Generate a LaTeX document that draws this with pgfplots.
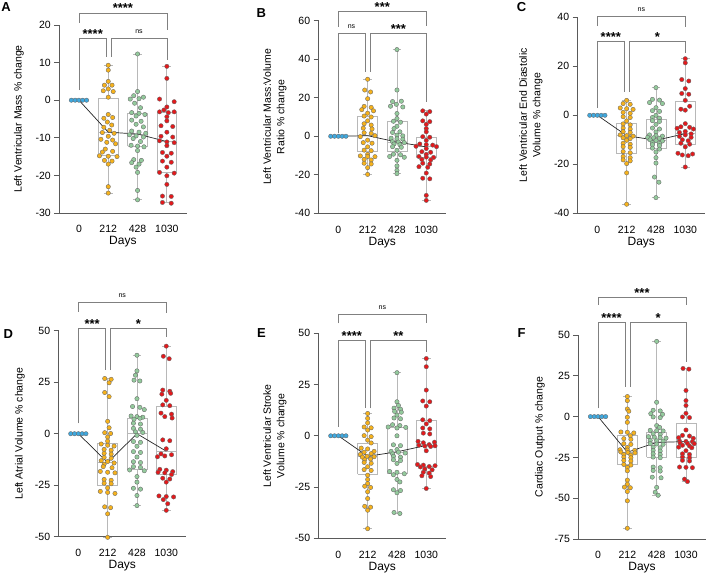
\documentclass[border=0pt]{standalone}
\usepackage{pgfplots}
\pgfplotsset{compat=1.18}
\usepackage{fontspec}
\setmainfont{Liberation Sans}
\definecolor{cyel}{HTML}{F6B21C}
\definecolor{cgrn}{HTML}{93CA9C}
\definecolor{cred}{HTML}{E3191C}
\definecolor{cblu}{HTML}{3FA8DE}
\definecolor{cbox}{HTML}{B8B8B8}
\definecolor{caxis}{HTML}{5A5A5A}
\definecolor{cbrk}{HTML}{808080}
\tikzset{
 stars/.style={anchor=base, inner sep=0pt, font=\bfseries\fontsize{13}{13}\selectfont},
 nsl/.style={anchor=base, inner sep=0pt, font=\fontsize{7}{8}\selectfont},
 brk/.style={draw=cbrk, line width=0.7pt},
 plet/.style={anchor=center, inner sep=0pt, font=\bfseries\fontsize{13}{13}\selectfont},
}
\pgfplotsset{
 pts/.style={only marks, mark=*, mark size=2.2pt, mark options={fill=#1, draw=black!60, line width=0.35pt}},
 medl/.style={mark=none, draw=black!85, line width=0.7pt},
 boxl/.style={draw=cbox, line width=0.8pt, mark=none, unbounded coords=jump},
 panel/.style={
  scale only axis, width=127.2pt, anchor=south west,
  xmin=-0.67, xmax=3.67,
  axis x line*=bottom, axis y line*=left,
  axis line style={draw=caxis, line width=0.8pt},
  xtick={0,1,2,3}, xticklabels={0,212,428,1030},
  xtick style={draw=none},
  ytick style={draw=caxis, line width=0.8pt},
  tick align=outside, major tick length=5pt,
  tick label style={font=\fontsize{10.5}{12}\selectfont, text=black},
  /pgf/number format/assume math mode=true,
  xticklabel style={yshift=-4pt},
  xlabel={Days},
  xlabel style={font=\fontsize{12}{14}\selectfont, at={([yshift=-29pt]axis description cs:0.5,0)}, anchor=center},
  ylabel style={font=\fontsize{10.5}{13.5}\selectfont, anchor=center, align=center},
  clip=false,
 },
}
% box macros: #1 lower whisker, #2 lower quartile, #3 median, #4 upper quartile, #5 upper whisker
\newcommand\bxa[5]{\addplot[boxl] coordinates {(0.66,#2)(1.34,#2)(1.34,#4)(0.66,#4)(0.66,#2)(nan,nan)(0.66,#3)(1.34,#3)(nan,nan)(1,#4)(1,#5)(nan,nan)(0.85,#5)(1.15,#5)(nan,nan)(1,#2)(1,#1)(nan,nan)(0.85,#1)(1.15,#1)};}
\newcommand\bxb[5]{\addplot[boxl] coordinates {(1.66,#2)(2.34,#2)(2.34,#4)(1.66,#4)(1.66,#2)(nan,nan)(1.66,#3)(2.34,#3)(nan,nan)(2,#4)(2,#5)(nan,nan)(1.85,#5)(2.15,#5)(nan,nan)(2,#2)(2,#1)(nan,nan)(1.85,#1)(2.15,#1)};}
\newcommand\bxc[5]{\addplot[boxl] coordinates {(2.66,#2)(3.34,#2)(3.34,#4)(2.66,#4)(2.66,#2)(nan,nan)(2.66,#3)(3.34,#3)(nan,nan)(3,#4)(3,#5)(nan,nan)(2.85,#5)(3.15,#5)(nan,nan)(3,#2)(3,#1)(nan,nan)(2.85,#1)(3.15,#1)};}
\newcommand\brk[5]{\draw[brk] (axis cs:#1,#2) |- (axis cs:#3,#5) -- (axis cs:#3,#4);}
\newcommand\blue{\addplot[pts=cblu] coordinates {(-0.26,0)(-0.13,0)(0,0)(0.13,0)(0.26,0)};}
\begin{document}
\begin{tikzpicture}
\useasboundingbox (0pt,0pt) rectangle (708pt,-577pt);
% ---------------- A ----------------
\begin{axis}[panel, at={(59.3pt,-213pt)}, height=188pt, ymin=-30, ymax=20, ytick={-30,-20,...,20},
 ylabel={Left Ventricular Mass \% change}, ylabel style={at={([xshift=-40.5pt]axis description cs:0,0.5)}}]
\bxa{-24.7}{-14.8}{-8.5}{0.5}{9.3}
\bxb{-26.5}{-12.2}{-9.0}{-3.5}{12.3}
\bxc{-27.3}{-19.2}{-11.0}{-3.2}{9.0}
\blue
\addplot[pts=cyel] coordinates {(1,9.3)(1,8.0)(1,5.0)(0.87,4.0)(1.13,4.0)(1,3.0)(0.83,2.5)(1.17,2.3)(1,0.8)(1,-3.8)(0.85,-4.8)(1.15,-4.6)(0.97,-5.8)(1.12,-6.6)(0.85,-7.2)(1.05,-8.0)(0.8,-8.6)(1.2,-8.8)(1,-9.6)(0.75,-10.4)(1.15,-10.6)(0.95,-11.2)(1.25,-11.6)(0.9,-13.0)(0.8,-13.8)(1.15,-13.6)(0.7,-14.8)(1,-14.9)(1.3,-15.0)(0.87,-16.0)(1.13,-16.2)(1,-17.0)(1,-23.0)(1,-24.7)};
\addplot[pts=cgrn] coordinates {(2,12.3)(2,2.3)(1.87,1.2)(2.2,0.8)(1.75,0.3)(2.05,0.4)(1.9,-0.8)(2.1,-2.0)(1.8,-3.3)(2.05,-3.5)(2.25,-3.8)(1.95,-4.2)(1.8,-5.3)(2.12,-5.6)(1.95,-6.4)(2.2,-7.1)(1.8,-8.2)(2.05,-8.5)(2.28,-8.8)(1.72,-9.2)(1.95,-9.5)(2.2,-9.8)(1.85,-10.2)(2.1,-11.0)(1.78,-12.0)(2,-12.2)(2.22,-12.4)(2,-13.4)(1.87,-15.8)(2.13,-16.0)(1.8,-16.6)(2.05,-17.0)(1.95,-17.8)(2,-19.2)(2,-24.0)(2,-26.5)};
\addplot[pts=cred] coordinates {(3,9.0)(3,5.8)(2.75,0.3)(3.25,-0.4)(3,-1.8)(2.9,-2.6)(2.75,-3.1)(3.25,-3.1)(3.05,-3.3)(3,-4.4)(3,-5.5)(2.8,-6.8)(3.2,-7.0)(3,-8.5)(2.8,-9.6)(3.2,-9.8)(2.75,-10.8)(3,-11.1)(3.25,-11.3)(3,-12.1)(2.85,-13.9)(3.15,-14.1)(3,-14.9)(2.85,-16.2)(3.15,-16.5)(3,-17.8)(2.75,-19.2)(3.25,-19.4)(3,-20.1)(3,-22.4)(2.85,-25.5)(3.15,-25.6)(2.85,-27.2)(3.15,-27.4)};
\addplot[medl] coordinates {(0,0)(1,-8.5)(2,-9.0)(3,-11.0)};
\brk{0}{20.6}{3}{18.7}{23.2}
\node[stars] at (axis cs:1.5,23.2) {****};
\brk{0}{2.7}{0.93}{11.6}{16.5}
\node[stars] at (axis cs:0.47,16.5) {****};
\brk{1.1}{11.6}{3}{10.7}{16.5}
\node[nsl] at (axis cs:2.05,17.8) {ns};
\end{axis}
% ---------------- B ----------------
\begin{axis}[panel, at={(318.7pt,-213.3pt)}, height=192.6pt, ymin=-40, ymax=60, ytick={-40,-20,...,60},
 ylabel={Left Ventricular Mass:Volume\\Ratio \% change}, ylabel style={at={([xshift=-43.7pt]axis description cs:0,0.5)}}]
\bxa{-19.8}{-8.1}{0.5}{10.2}{29.6}
\bxb{-19.4}{-8.1}{-3.0}{7.8}{45.0}
\bxc{-33.3}{-10.8}{-5.5}{-0.7}{13.2}
\blue
\addplot[pts=cyel] coordinates {(1,29.6)(0.9,24.0)(1.1,23.0)(1,19.5)(0.88,15.5)(1.12,15.0)(0.8,13.8)(1.2,13.2)(1,12.0)(0.88,10.5)(1.12,10.0)(1,8.0)(0.88,6.5)(1.12,5.8)(0.85,4.2)(1.15,3.8)(0.88,1.8)(1.12,1.5)(1.25,0.3)(0.75,-0.2)(1,-2.0)(0.85,-3.3)(1.15,-3.6)(1,-5.5)(0.88,-7.2)(1.12,-7.5)(1,-9.4)(0.75,-10.2)(1,-10.5)(1.25,-10.6)(0.88,-12.0)(1.12,-12.3)(0.88,-14.0)(1.12,-14.4)(1,-16.3)(1,-19.8)};
\addplot[pts=cgrn] coordinates {(2,45.0)(2,24.0)(1.85,18.0)(2.15,18.2)(1.98,16.6)(1.78,15.6)(2.2,15.2)(2,11.8)(2,9.2)(1.88,7.8)(2.12,7.3)(2,5.2)(1.9,4.0)(2.1,2.3)(1.85,2.0)(2,0.6)(2.2,0.2)(1.8,-1.0)(2,-1.3)(2.2,-1.5)(1.85,-2.8)(2.05,-3.0)(2.25,-3.3)(1.9,-4.0)(2.1,-4.4)(1.85,-5.4)(2.15,-5.7)(2,-7.3)(1.88,-9.3)(2.12,-9.6)(1.75,-10.5)(2.25,-10.9)(2,-12.5)(2,-15.4)(2,-17.7)(2,-19.4)};
\addplot[pts=cred] coordinates {(2.88,13.2)(3.12,12.8)(3,11.5)(2.88,8.0)(3.12,7.6)(3,6.2)(3,4.0)(3,2.3)(2.88,-0.2)(3.12,-0.5)(3,-2.1)(2.78,-4.0)(3,-4.3)(3.22,-4.6)(2.65,-5.2)(3.35,-5.4)(3,-6.4)(2.85,-8.0)(3.15,-8.3)(3,-9.4)(2.75,-10.5)(3,-10.8)(3.25,-11.0)(2.85,-12.0)(3.15,-12.3)(2.88,-14.0)(3.12,-14.4)(2.75,-15.8)(3.05,-16.1)(3,-19.1)(2.88,-21.8)(3.12,-22.1)(3,-30.7)(3,-33.3)};
\addplot[medl] coordinates {(0,0)(1,0.3)(2,-3.0)(3,-5.5)};
\brk{0}{56.9}{3}{57.2}{64.7}
\node[stars] at (axis cs:1.5,64.7) {***};
\brk{0}{1.5}{0.91}{33.5}{53.5}
\node[nsl] at (axis cs:0.45,56.1) {ns};
\brk{1.1}{33.5}{3}{18}{53.5}
\node[stars] at (axis cs:2.05,53.5) {***};
\end{axis}
% ---------------- C ----------------
\begin{axis}[panel, at={(577.7pt,-213.3pt)}, height=196pt, ymin=-40, ymax=40, ytick={-40,-20,...,40},
 ylabel={Left Ventricular End Diastolic\\Volume \% change}, ylabel style={at={([xshift=-46.7pt]axis description cs:0,0.5)}}]
\bxa{-36.3}{-15.6}{-8.3}{-3.3}{6.1}
\bxb{-33.6}{-13.5}{-10.2}{-1.5}{11.3}
\bxc{-21.1}{-11.7}{-7.5}{5.7}{23.1}
\blue
\addplot[pts=cyel] coordinates {(1,6.1)(0.88,4.8)(1.12,4.5)(0.78,3.0)(1,2.7)(1.22,2.4)(0.88,1.2)(1.12,0.8)(0.88,-0.6)(1.12,-0.9)(1,-2.3)(0.88,-3.5)(1.12,-3.9)(0.88,-5.2)(1.12,-5.6)(0.88,-6.7)(1.12,-7.0)(0.78,-8.0)(1,-8.3)(1.22,-8.5)(0.88,-9.2)(1.12,-9.5)(1,-10.2)(0.88,-11.4)(1.12,-11.8)(0.88,-12.8)(1.12,-13.1)(0.88,-14.8)(1.12,-15.3)(0.88,-16.8)(1.12,-17.3)(0.88,-18.2)(1.12,-18.6)(1,-19.7)(1,-23.5)(1,-36.3)};
\addplot[pts=cgrn] coordinates {(2,11.3)(1.88,6.5)(2.12,6.2)(1.78,5.2)(2.22,4.8)(2,3.1)(1.88,1.9)(2.12,1.6)(2,0)(1.88,-0.9)(2.12,-1.2)(1.88,-2.2)(2.12,-2.5)(2,-3.7)(1.88,-5.2)(2.12,-5.6)(2,-6.8)(1.78,-8.0)(2,-8.3)(2.22,-8.5)(1.72,-9.0)(1.92,-9.2)(2.12,-9.4)(1.8,-10.0)(2.0,-10.3)(2.22,-10.5)(1.88,-11.2)(2.12,-11.5)(1.88,-12.0)(2.12,-12.4)(1.88,-13.4)(2.12,-13.8)(2,-15.0)(2,-17.3)(2,-19.5)(1.95,-25.2)(2.1,-27.3)(2,-33.6)};
\addplot[pts=cred] coordinates {(3,23.1)(3,21.4)(2.88,14.6)(3.12,14.0)(3,10.9)(2.88,8.9)(3.12,8.6)(3,6.1)(3.15,3.7)(2.85,2.5)(3.0,2.1)(3,-3.4)(2.85,-4.7)(3.15,-4.9)(2.72,-5.3)(3.28,-5.6)(3,-6.6)(2.8,-7.0)(3.2,-7.6)(3,-8.0)(2.8,-8.6)(3.2,-9.0)(2.9,-10.0)(3.1,-10.4)(2.85,-11.4)(3.15,-11.8)(3,-12.9)(2.75,-15.5)(3.25,-15.8)(2.9,-16.2)(3.1,-16.5)(3,-21.1)};
\addplot[medl] coordinates {(0,0)(1,-8.3)(2,-10.2)(3,-7.5)};
\brk{0}{36.4}{3}{36}{40.2}
\node[nsl] at (axis cs:1.5,42.2) {ns};
\brk{0}{2.9}{0.92}{9.6}{30}
\node[stars] at (axis cs:0.46,30) {****};
\brk{1.1}{9.6}{3}{25.3}{30}
\node[stars] at (axis cs:2.05,30) {*};
\end{axis}
% ---------------- D ----------------
\begin{axis}[panel, at={(58.7pt,-536.7pt)}, height=206pt, ymin=-50, ymax=50, ytick={-50,-25,...,50},
 ylabel={Left Atrial Volume \% change}, ylabel style={at={([xshift=-38.7pt]axis description cs:0,0.5)}}]
\bxa{-50.3}{-25.2}{-14.0}{-4.9}{26.8}
\bxb{-34.9}{-17.5}{0}{7.4}{38.1}
\bxc{-37.2}{-19.6}{-8.5}{13.3}{42.5}
\blue
\addplot[pts=cyel] coordinates {(0.9,26.8)(1.12,26.4)(1.05,24.7)(0.9,20.0)(1.05,18.0)(1,6.0)(1.05,2.9)(0.9,0.5)(1.1,0.1)(1,-1.6)(1,-3.6)(0.78,-5.0)(1.0,-5.6)(1.22,-6.0)(0.88,-7.6)(1.12,-8.0)(0.88,-9.5)(1.12,-9.9)(0.88,-11.5)(1.12,-11.9)(0.78,-13.1)(1.0,-13.5)(1.22,-14.2)(0.88,-14.8)(0.85,-16.0)(1.15,-16.5)(0.75,-18.3)(1.0,-18.7)(1.25,-19.0)(0.88,-22.2)(1.12,-22.6)(0.88,-24.0)(1.12,-24.3)(1,-26.3)(0.75,-28.0)(1.0,-28.5)(1.25,-29.0)(0.9,-35.5)(1.1,-35.9)(1,-38.9)(1,-50.3)};
\addplot[pts=cgrn] coordinates {(2,38.1)(2,30.5)(1.95,28.4)(1.9,26.0)(2.1,25.6)(2,17.0)(1.85,13.2)(2.1,12.8)(2.25,11.7)(1.8,8.6)(2.0,8.3)(2.2,8.0)(2.1,7.5)(1.9,7.0)(1.88,5.1)(2.12,4.7)(1.88,2.6)(2.12,2.2)(1.95,0.9)(2.2,0.6)(2,-0.8)(1.88,-3.8)(2.12,-4.2)(2,-6.1)(1.88,-8.7)(2.12,-9.1)(2,-11.3)(1.88,-13.6)(2.12,-14.0)(1.88,-16.0)(2.12,-16.4)(1.75,-17.6)(2.25,-18.0)(2,-20.8)(2,-23.5)(1.88,-26.5)(2.12,-26.9)(2,-30.0)(2,-34.9)};
\addplot[pts=cred] coordinates {(3,42.5)(2.9,37.6)(3.1,36.4)(2.88,21.2)(3.12,20.6)(2.85,19.2)(3.15,19.6)(3,16.2)(2.88,14.0)(3.12,13.6)(2.82,10.0)(3.18,9.5)(2.95,8.3)(3.2,7.6)(2.88,-3.0)(3.12,-3.4)(3,-7.3)(2.82,-9.8)(3.18,-10.2)(2.95,-10.8)(2.7,-11.2)(2.78,-17.3)(3.0,-17.7)(3.22,-18.4)(2.72,-18.7)(2.95,-19.0)(3.18,-19.8)(2.88,-21.6)(3.12,-22.0)(3,-23.5)(2.75,-30.2)(3.0,-30.5)(3.25,-30.7)(2.9,-32.0)(3.05,-34.0)(3,-37.2)};
\addplot[medl] coordinates {(0,0)(1,-14.0)(2,0)(3,-8.5)};
\brk{0}{59.2}{3}{58.4}{63.6}
\node[nsl] at (axis cs:1.5,66) {ns};
\brk{0}{5}{0.93}{30.9}{51.2}
\node[stars] at (axis cs:0.47,51.2) {***};
\brk{1.1}{30.9}{3}{47.1}{51.2}
\node[stars] at (axis cs:2.05,51.2) {*};
\end{axis}
% ---------------- E ----------------
\begin{axis}[panel, at={(318.7pt,-538.3pt)}, height=205pt, ymin=-50, ymax=50, ytick={-50,-25,...,50},
 ylabel={Left Ventricular Stroke\\Volume \% change}, ylabel style={at={([xshift=-43.7pt]axis description cs:0,0.5)}}]
\bxa{-45.3}{-18.7}{-10.0}{-3.7}{10.9}
\bxb{-37.9}{-18.4}{-8.3}{4.1}{30.8}
\bxc{-25.7}{-15.1}{-4.7}{7.6}{37.7}
\blue
\addplot[pts=cyel] coordinates {(1,10.9)(1,8.5)(1,6.3)(0.88,4.3)(1.12,3.9)(1,2.8)(0.88,0.1)(1.12,-0.4)(1,-2.1)(1.12,-3.5)(0.78,-6.0)(1.0,-6.4)(1.22,-7.6)(0.88,-8.0)(1.12,-8.7)(0.75,-9.1)(0.98,-10.0)(1.22,-10.2)(0.82,-10.4)(1.1,-11.3)(0.9,-11.7)(0.88,-13.0)(1.12,-13.4)(1,-15.1)(0.88,-16.5)(1.12,-16.9)(1,-19.2)(1,-21.3)(1,-23.3)(0.9,-24.6)(1.1,-25.2)(1,-27.3)(1,-30.6)(0.9,-34.4)(1.1,-34.8)(1.0,-36.3)(1,-45.3)};
\addplot[pts=cgrn] coordinates {(2,30.8)(2,16.6)(2.05,14.8)(1.9,13.5)(2.12,13.0)(1.92,11.9)(2.15,11.5)(2,10.1)(1.9,8.7)(2.12,8.3)(1.85,5.4)(2.1,5.0)(1.7,4.3)(2.3,4.1)(2.0,3.8)(2,0.0)(1.88,-4.4)(2.12,-4.8)(2,-6.7)(1.8,-7.6)(2.05,-8.0)(2.28,-8.4)(1.85,-8.8)(1.88,-10.0)(2.12,-10.4)(1.88,-11.7)(2.12,-12.1)(2,-13.5)(1.75,-17.4)(2.0,-17.8)(2.25,-18.5)(1.88,-19.0)(2,-21.3)(2.1,-22.5)(1.88,-26.3)(2.12,-26.7)(2,-27.8)(1.9,-37.4)(2.1,-37.9)};
\addplot[pts=cred] coordinates {(3,37.7)(3,33.7)(3,22.3)(2.88,17.0)(3.12,16.6)(3,14.5)(2.88,7.8)(3.12,7.4)(3,5.8)(2.88,3.8)(3.12,3.4)(2.9,1.3)(3.12,0.9)(2.72,-2.7)(3.28,-3.1)(2.9,-3.4)(3.1,-4.3)(2.75,-4.6)(3.3,-4.9)(2.95,-5.0)(3.15,-5.2)(3,-7.3)(2.7,-14.0)(2.9,-14.3)(3.3,-14.6)(3.1,-15.0)(2.8,-15.2)(2.95,-16.2)(3.2,-16.6)(2.9,-17.8)(3.1,-18.2)(2.85,-19.5)(3.15,-19.9)(3,-25.7)};
\addplot[medl] coordinates {(0,0)(1,-10.0)(2,-7.8)(3,-4.7)};
\brk{0}{54.9}{3}{54.9}{59.3}
\node[nsl] at (axis cs:1.5,61.7) {ns};
\brk{0}{4.4}{0.91}{13.4}{46.4}
\node[stars] at (axis cs:0.46,46.4) {****};
\brk{1.1}{13.4}{3}{41}{46.4}
\node[stars] at (axis cs:2.05,46.4) {**};
\end{axis}
% ---------------- F ----------------
\begin{axis}[panel, at={(578.4pt,-539pt)}, height=204pt, ymin=-75, ymax=50, ytick={-75,-50,...,50},
 ylabel={Cardiac Output \% change}, ylabel style={at={([xshift=-38.4pt]axis description cs:0,0.5)}}]
\bxa{-68.4}{-29.5}{-21.8}{-11.7}{12.3}
\bxb{-48.2}{-25.0}{-15.8}{-9.6}{46.1}
\bxc{-39.8}{-25.0}{-15.3}{-4.1}{29.5}
\blue
\addplot[pts=cyel] coordinates {(1,12.3)(1,9.8)(1,4.7)(1.05,3.3)(1,-0.4)(1,-3.5)(0.78,-9.4)(1.0,-9.6)(1.22,-10.0)(1.1,-11.7)(0.88,-13.5)(1.12,-13.9)(0.88,-16.6)(1.12,-17.0)(1,-18.9)(0.75,-20.3)(1.0,-20.5)(1.25,-20.7)(0.78,-21.7)(1.02,-22.0)(1.26,-22.2)(0.88,-23.2)(1.12,-23.6)(0.88,-24.8)(1.12,-25.2)(0.88,-26.8)(1.12,-27.2)(0.88,-29.3)(1.12,-29.7)(1,-31.1)(1,-33.2)(1,-38.9)(1,-41.4)(0.9,-43.2)(1.1,-43.6)(1,-45.9)(1,-51.6)(1,-68.4)};
\addplot[pts=cgrn] coordinates {(2,46.1)(2,8.8)(1.88,3.9)(2.12,3.5)(1.8,1.8)(2.2,1.4)(1.88,-0.2)(2.12,-0.6)(2,-5.5)(2.1,-6.6)(1.78,-8.4)(2.0,-8.6)(2.22,-8.8)(1.88,-10.5)(2.12,-10.9)(1.72,-12.3)(1.92,-12.6)(2.12,-12.9)(2.32,-13.2)(1.78,-14.6)(2.0,-14.8)(2.22,-15.0)(1.78,-16.6)(2.0,-16.8)(2.22,-17.0)(1.88,-18.7)(2.12,-19.1)(1.88,-20.7)(2.12,-21.1)(1.88,-22.8)(2.12,-23.2)(1.88,-24.8)(2.12,-25.2)(1.88,-30.9)(2.12,-31.3)(1.88,-33.0)(2.12,-33.4)(1.85,-37.1)(2.15,-37.5)(2,-43.4)(1.95,-46.3)(2.05,-48.2)};
\addplot[pts=cred] coordinates {(2.9,29.5)(3.1,29.1)(3,16.0)(3,9.8)(3,6.8)(3,2.0)(2.88,-0.2)(3.12,-0.6)(3,-8.2)(2.88,-11.5)(3.12,-11.9)(2.75,-12.9)(3.25,-13.3)(2.78,-15.0)(3.0,-15.2)(3.22,-15.4)(2.8,-16.2)(3.05,-16.4)(3.28,-16.6)(2.88,-17.6)(3.12,-18.0)(2.75,-18.7)(3.2,-19.1)(3,-20.9)(2.88,-22.8)(3.12,-23.2)(2.88,-24.8)(3.12,-25.2)(2.88,-26.8)(3.12,-27.2)(2.78,-30.9)(3.0,-31.1)(3.22,-31.3)(2.95,-38.3)(3.05,-39.8)};
\addplot[medl] coordinates {(0,0)(1,-21.8)(2,-15.8)(3,-15.3)};
\brk{0}{68.4}{3}{68.4}{73.1}
\node[stars] at (axis cs:1.5,73.1) {***};
\brk{0}{5.1}{0.92}{18.3}{57.5}
\node[stars] at (axis cs:0.46,57.5) {****};
\brk{1.1}{18.3}{3}{33.6}{57.5}
\node[stars] at (axis cs:2.05,57.5) {*};
\end{axis}
% panel letters
\node[plet] at (6pt,-7.5pt) {A};
\node[plet] at (261.3pt,-13.3pt) {B};
\node[plet] at (521.5pt,-7.5pt) {C};
\node[plet] at (8.3pt,-334pt) {D};
\node[plet] at (261.5pt,-333.3pt) {E};
\node[plet] at (521.7pt,-333.3pt) {F};
\end{tikzpicture}
\end{document}
